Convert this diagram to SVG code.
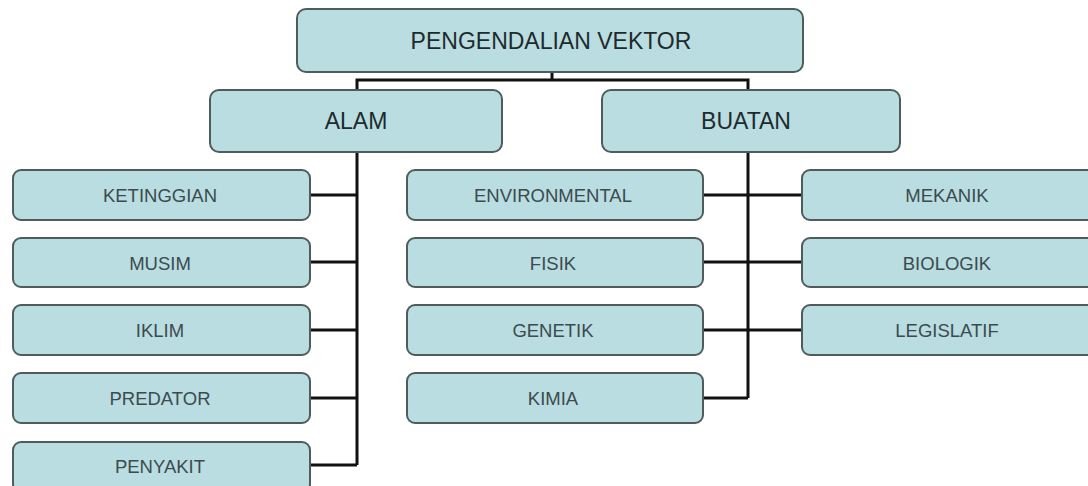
<svg xmlns="http://www.w3.org/2000/svg" width="1088" height="486" viewBox="0 0 1088 486">
<style>
.box{fill:#b9dde1;stroke:#505c5c;stroke-width:2}
.t1{font-family:"Liberation Sans",Arial,sans-serif;font-size:23px;fill:#1e2a2c;text-anchor:middle;dominant-baseline:central}
.t2{font-family:"Liberation Sans",Arial,sans-serif;font-size:18.5px;fill:#3c4b4e;text-anchor:middle;dominant-baseline:central}
.ln{fill:none;stroke:#111;stroke-width:3}
</style>
<rect width="1088" height="486" fill="#fff"/>
<g id="connectors">
<path class="ln" d="M552,72 V80 M357,90 V80 H748 V90"/>
<path class="ln" d="M357,152 V465 M310,195 H357 M310,262 H357 M310,330 H357 M310,398 H357 M310,465 H357"/>
<path class="ln" d="M748,152 V398 M703,195 H802 M703,262 H802 M703,330 H802 M703,398 H748"/>
</g>
<g id="n-root"><rect class="box" x="297" y="9" width="506" height="63" rx="9"/><text class="t1" x="551" y="41">PENGENDALIAN VEKTOR</text></g>
<g id="n-alam"><rect class="box" x="210" y="90" width="292" height="62" rx="9"/><text class="t1" x="356" y="121">ALAM</text></g>
<g id="n-buatan"><rect class="box" x="602" y="90" width="298" height="62" rx="9"/><text class="t1" x="746" y="121">BUATAN</text></g>
<g id="n-ketinggian"><rect class="box" x="13" y="170" width="297" height="50" rx="8"/><text class="t2" x="160" y="195">KETINGGIAN</text></g>
<g id="n-musim"><rect class="box" x="13" y="238" width="297" height="49" rx="8"/><text class="t2" x="160" y="263">MUSIM</text></g>
<g id="n-iklim"><rect class="box" x="13" y="305" width="297" height="50" rx="8"/><text class="t2" x="160" y="330">IKLIM</text></g>
<g id="n-predator"><rect class="box" x="13" y="373" width="297" height="50" rx="8"/><text class="t2" x="160" y="398">PREDATOR</text></g>
<g id="n-penyakit"><rect class="box" x="13" y="442" width="297" height="50" rx="8"/><text class="t2" x="160" y="466">PENYAKIT</text></g>
<g id="n-environmental"><rect class="box" x="407" y="170" width="296" height="50" rx="8"/><text class="t2" x="553" y="195">ENVIRONMENTAL</text></g>
<g id="n-fisik"><rect class="box" x="407" y="238" width="296" height="49" rx="8"/><text class="t2" x="553" y="263">FISIK</text></g>
<g id="n-genetik"><rect class="box" x="407" y="305" width="296" height="50" rx="8"/><text class="t2" x="553" y="330">GENETIK</text></g>
<g id="n-kimia"><rect class="box" x="407" y="373" width="296" height="50" rx="8"/><text class="t2" x="553" y="398">KIMIA</text></g>
<g id="n-mekanik"><rect class="box" x="802" y="170" width="296" height="50" rx="8"/><text class="t2" x="947" y="195">MEKANIK</text></g>
<g id="n-biologik"><rect class="box" x="802" y="238" width="296" height="49" rx="8"/><text class="t2" x="947" y="263">BIOLOGIK</text></g>
<g id="n-legislatif"><rect class="box" x="802" y="305" width="296" height="50" rx="8"/><text class="t2" x="947" y="330">LEGISLATIF</text></g>
</svg>
